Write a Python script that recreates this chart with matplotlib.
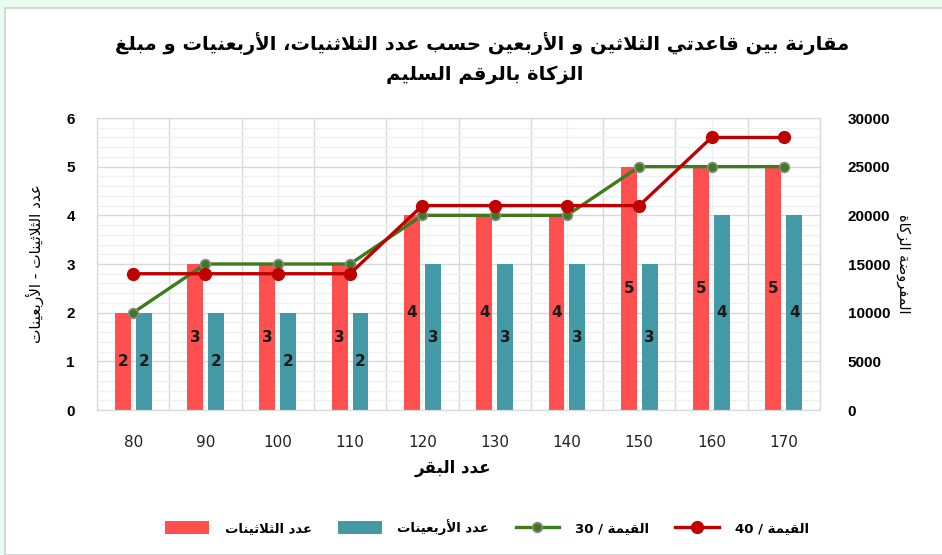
import numpy as np
import matplotlib
matplotlib.use("Agg")
import matplotlib.pyplot as plt
from matplotlib.patches import Rectangle
from matplotlib.ticker import MultipleLocator

# cattle head counts and the two zakat rules
herd_sizes = ["80", "90", "100", "110", "120", "130", "140", "150", "160", "170"]
thirties = [2, 3, 3, 3, 4, 4, 4, 5, 5, 5]
forties = [2, 2, 2, 2, 3, 3, 3, 3, 4, 4]
value_30 = [10000, 15000, 15000, 15000, 20000, 20000, 20000, 25000, 25000, 25000]
value_40 = [14000, 14000, 14000, 14000, 21000, 21000, 21000, 21000, 28000, 28000]

# Arabic contextual forms (isolated code point, number of forms)
FORMS = {
    'ء': (0xFE80, 1), 'آ': (0xFE81, 2), 'أ': (0xFE83, 2), 'ؤ': (0xFE85, 2),
    'إ': (0xFE87, 2), 'ئ': (0xFE89, 4), 'ا': (0xFE8D, 2), 'ب': (0xFE8F, 4),
    'ة': (0xFE93, 2), 'ت': (0xFE95, 4), 'ث': (0xFE99, 4), 'ج': (0xFE9D, 4),
    'ح': (0xFEA1, 4), 'خ': (0xFEA5, 4), 'د': (0xFEA9, 2), 'ذ': (0xFEAB, 2),
    'ر': (0xFEAD, 2), 'ز': (0xFEAF, 2), 'س': (0xFEB1, 4), 'ش': (0xFEB5, 4),
    'ص': (0xFEB9, 4), 'ض': (0xFEBD, 4), 'ط': (0xFEC1, 4), 'ظ': (0xFEC5, 4),
    'ع': (0xFEC9, 4), 'غ': (0xFECD, 4), 'ف': (0xFED1, 4), 'ق': (0xFED5, 4),
    'ك': (0xFED9, 4), 'ل': (0xFEDD, 4), 'م': (0xFEE1, 4), 'ن': (0xFEE5, 4),
    'ه': (0xFEE9, 4), 'و': (0xFEED, 2), 'ى': (0xFEEF, 2), 'ي': (0xFEF1, 4),
}
LAM_ALEF = {'ا': 0xFEFB, 'أ': 0xFEF7, 'إ': 0xFEF9, 'آ': 0xFEF5}


def ar(text):
    """Shape Arabic letters and return them in visual (left-to-right) order."""
    tokens = []
    i = 0
    while i < len(text):
        c = text[i]
        if c == 'ل' and i + 1 < len(text) and text[i + 1] in LAM_ALEF:
            tokens.append((LAM_ALEF[text[i + 1]], 2))
            i += 2
            continue
        tokens.append(FORMS.get(c, c))
        i += 1
    out = []
    for k, t in enumerate(tokens):
        if isinstance(t, str):
            out.append(t)
            continue
        base, n = t
        prev = tokens[k - 1] if k > 0 else None
        nxt = tokens[k + 1] if k + 1 < len(tokens) else None
        join_prev = isinstance(prev, tuple) and prev[1] == 4
        join_next = n == 4 and isinstance(nxt, tuple) and nxt[1] >= 2
        if n == 1:
            code = base
        elif join_prev and join_next:
            code = base + 3
        elif join_next:
            code = base + 2
        elif join_prev:
            code = base + 1
        else:
            code = base
        out.append(chr(code))
    return ''.join(out)[::-1]


plt.rcParams['font.family'] = ['DejaVu Sans']

RED = '#ff4f4f'
TEAL = '#4499a6'
GREEN = '#3f7a1f'
DARK_RED = '#c00000'

fig = plt.figure(figsize=(9.42, 5.55), dpi=100, facecolor='#e8fbee')
fig.patches.append(Rectangle((5 / 942, 0), 1, 1 - 8 / 555, transform=fig.transFigure,
                             facecolor='white', edgecolor='#d0d0d0', lw=1.2, zorder=-10))

ax = fig.add_axes([97 / 942, 1 - 410 / 555, (820 - 97) / 942, (410 - 118) / 555])
ax2 = ax.twinx()

x = np.arange(len(herd_sizes))
w = 0.22
off = 0.145
b1 = ax.bar(x - off, thirties, w, color=RED, zorder=2)
b2 = ax.bar(x + off, forties, w, color=TEAL, zorder=2)

for bars, vals in ((b1, thirties), (b2, forties)):
    for r, v in zip(bars, vals):
        ax.text(r.get_x() + r.get_width() / 2, v / 2, str(v), ha='center', va='center',
                fontsize=11, fontweight='bold', color='#1a1a1a', zorder=3)

l30, = ax2.plot(x, value_30, color=GREEN, lw=2.4, marker='o', ms=7,
                mfc=GREEN, mec='#8a8a8a', mew=1.2, zorder=4)
l40, = ax2.plot(x, value_40, color=DARK_RED, lw=2.4, marker='o', ms=8.5,
                mfc=DARK_RED, mec=DARK_RED, zorder=4)

ax.set_xlim(-0.5, len(x) - 0.5)
ax.set_ylim(0, 6)
ax2.set_ylim(0, 30000)
ax.yaxis.set_major_locator(MultipleLocator(1))
ax.yaxis.set_minor_locator(MultipleLocator(0.2))
ax2.yaxis.set_major_locator(MultipleLocator(5000))

# gridlines: category boundaries and fine horizontal steps
ax.set_xticks(x)
ax.set_xticks(np.arange(-0.5, len(x), 1), minor=True)
ax.grid(which='major', axis='y', color='#d9d9d9', lw=1, zorder=0)
ax.grid(which='minor', axis='y', color='#f0f0f0', lw=1, zorder=0)
ax.grid(which='minor', axis='x', color='#d9d9d9', lw=1, zorder=0)
for xc in x[::2]:
    ax.axvline(xc, color='#f0f0f0', lw=1, zorder=0)
ax.set_axisbelow(True)

for a in (ax, ax2):
    for s in a.spines.values():
        s.set_color('#d9d9d9')
ax2.patch.set_visible(False)

ax.set_xticklabels(herd_sizes, fontsize=11, color='#222222')
ax.tick_params(axis='x', which='both', length=0, pad=18)
ax.tick_params(axis='y', which='both', length=0, pad=16, labelsize=11)
ax2.tick_params(axis='y', length=0, pad=20, labelsize=11)
for lab in ax.get_yticklabels() + ax2.get_yticklabels():
    lab.set_fontweight('bold')
    lab.set_family('Liberation Sans')

ax.set_ylabel(ar('عدد الثلاثينات - الأربعينات'), fontsize=11, labelpad=16)
ax2.set_ylabel(ar('الزكاة') + ' ' + ar('المفروضة'), fontsize=10.5, rotation=-90,
               labelpad=4, va='bottom')

fig.text(482 / 942, 1 - 44 / 555,
         ar('مقارنة بين قاعدتي الثلاثين و الأربعين حسب عدد الثلاثنيات، الأربعنيات و مبلغ'),
         ha='center', va='center', fontsize=14, fontweight='bold')
fig.text(485 / 942, 1 - 74 / 555, ar('الزكاة بالرقم السليم'),
         ha='center', va='center', fontsize=14, fontweight='bold')
fig.text(453 / 942, 1 - 468 / 555, ar('عدد البقر'), ha='center', va='center',
         fontsize=12, fontweight='bold')

handles = [b1, b2, l30, l40]
labels = [ar('عدد الثلاثينات'), ar('عدد الأربعينات'),
          '30 / ' + ar('القيمة'), '40 / ' + ar('القيمة')]
fig.legend(handles, labels, loc='center', bbox_to_anchor=(487 / 942, 1 - 527 / 555),
           ncol=4, frameon=False, handlelength=3.3, handleheight=1.1,
           columnspacing=2.0, handletextpad=1.2,
           prop={'size': 9.5, 'weight': 'bold'})

fig.savefig('out.png', dpi=100, facecolor=fig.get_facecolor())
